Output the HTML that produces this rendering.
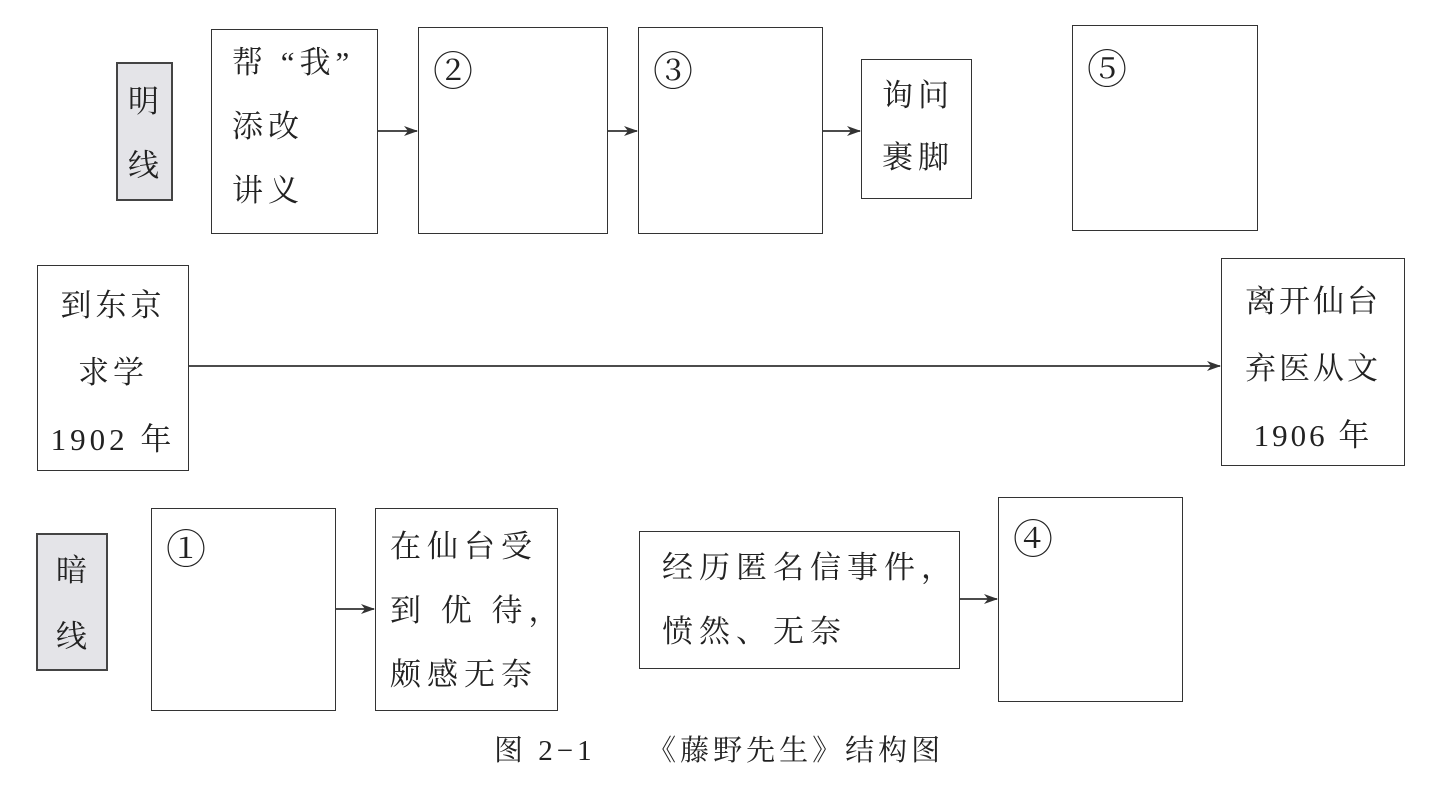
<!DOCTYPE html>
<html><head><meta charset="utf-8"><style>
body{margin:0;width:1433px;height:793px;background:#fff;position:relative;overflow:hidden;font-family:"Liberation Serif","Noto Serif CJK SC",serif;color:#222}
.b{position:absolute;border:1.5px solid #333;box-sizing:border-box;background:#fff}
.s{background:#e4e4e8;border:2px solid #444}
.t{position:absolute;font-size:31px;line-height:64px;white-space:nowrap;letter-spacing:5px}
.n{position:absolute;font-size:40px}
svg{position:absolute;left:0;top:0}
</style></head><body>
<div class="b s" style="left:116px;top:62px;width:57px;height:139px"></div>
<div class="t" style="left:128px;top:70px;line-height:64px">明<br>线</div>
<div class="b s" style="left:36px;top:533px;width:72px;height:138px"></div>
<div class="t" style="left:56px;top:538px;line-height:66px">暗<br>线</div>

<div class="b" style="left:211px;top:29px;width:167px;height:205px"></div>
<div class="t" style="left:232px;top:31px">帮 “我”<br>添改<br>讲义</div>
<div class="b" style="left:418px;top:27px;width:190px;height:207px"></div>
<div class="n" style="left:433px;top:40px">②</div>
<div class="b" style="left:638px;top:27px;width:185px;height:207px"></div>
<div class="n" style="left:653px;top:40px">③</div>
<div class="b" style="left:861px;top:59px;width:111px;height:140px"></div>
<div class="t" style="left:882px;top:65px;line-height:62px">询问<br>裹脚</div>
<div class="b" style="left:1072px;top:25px;width:186px;height:206px"></div>
<div class="n" style="left:1087px;top:38px">⑤</div>

<div class="b" style="left:37px;top:265px;width:152px;height:206px"></div>
<div class="t" style="left:37px;width:152px;text-align:center;top:272px;line-height:67px;letter-spacing:4px">到东京<br>求学<br>1902 年</div>
<div class="b" style="left:1221px;top:258px;width:184px;height:208px"></div>
<div class="t" style="left:1221px;width:184px;text-align:center;top:268px;line-height:67px;letter-spacing:3px">离开仙台<br>弃医从文<br>1906 年</div>

<div class="b" style="left:151px;top:508px;width:185px;height:203px"></div>
<div class="n" style="left:166px;top:518px">①</div>
<div class="b" style="left:375px;top:508px;width:183px;height:203px"></div>
<div class="t" style="left:390px;top:515px;line-height:64px;letter-spacing:6px">在仙台受<br>到 优 待，<br>颇感无奈</div>
<div class="b" style="left:639px;top:531px;width:321px;height:138px"></div>
<div class="t" style="left:662px;top:536px;line-height:64px;letter-spacing:6px">经历匿名信事件，<br>愤然、无奈</div>
<div class="b" style="left:998px;top:497px;width:185px;height:205px"></div>
<div class="n" style="left:1013px;top:508px">④</div>

<div style="position:absolute;left:494px;top:728px;font-size:29px;white-space:nowrap;letter-spacing:4px">图 2−1　　《藤野先生》结构图</div>

<svg width="1433" height="793">
<defs><marker id="a" markerWidth="14" markerHeight="10" refX="13" refY="5" orient="auto" markerUnits="userSpaceOnUse"><path d="M0,0 L14,5 L0,10 L4,5z" fill="#333"/></marker></defs>
<g stroke="#333" stroke-width="1.8" marker-end="url(#a)">
<line x1="378" y1="131" x2="417" y2="131"/>
<line x1="608" y1="131" x2="637" y2="131"/>
<line x1="823" y1="131" x2="860" y2="131"/>
<line x1="189" y1="366" x2="1220" y2="366"/>
<line x1="336" y1="609" x2="374" y2="609"/>
<line x1="960" y1="599" x2="997" y2="599"/>
</g></svg>
</body></html>
